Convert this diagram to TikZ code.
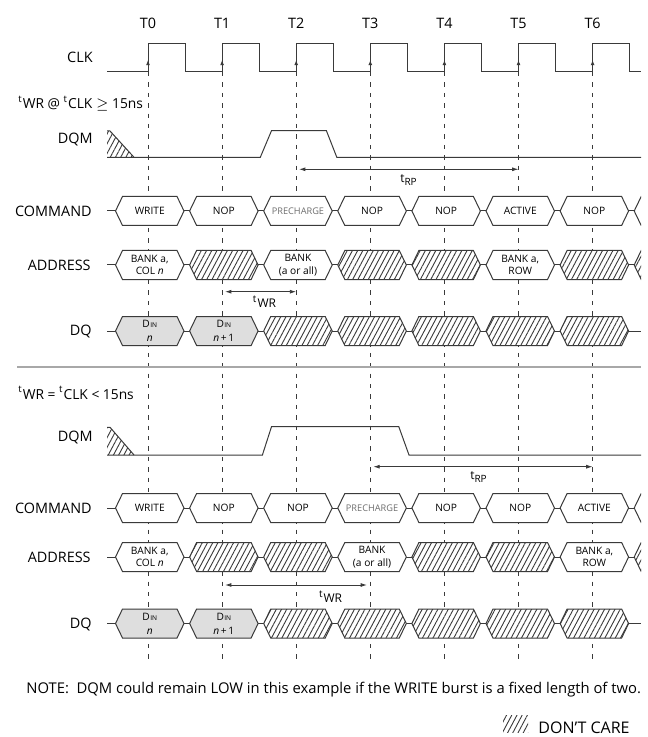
\documentclass[tikz,border=0pt]{standalone}
\usepackage{fontspec}
\setmainfont{Open Sans}
\usepackage{tikz}
\usetikzlibrary{arrows.meta,patterns.meta}
\definecolor{wiregray}{HTML}{3A3A3A}
\definecolor{dinfill}{HTML}{DEDEDE}
\definecolor{sepgray}{HTML}{A8A8A8}
\definecolor{faintgray}{HTML}{6E6E6E}
\tikzset{
  wire/.style={draw=wiregray, line width=0.5pt},
  gridline/.style={draw=wiregray, dash pattern=on 2.2pt off 3pt, line width=0.45pt},
  span/.style={draw=wiregray, {Latex[length=3.2pt,width=2pt]}-{Latex[length=3.2pt,width=2pt]}, line width=0.45pt},
  riseedge/.style={draw=wiregray, -{Latex[length=2.6pt,width=2pt]}, line width=0.45pt},
  divider/.style={draw=sepgray, line width=1pt},
  bus/.style={wire, fill=white},
  din/.style={wire, fill=dinfill},
  dontcare/.style={wire, preaction={fill=white},
    pattern={Lines[angle=62,distance=2.3pt,line width=0.45pt]}, pattern color=wiregray},
  sig/.style={font=\fontsize{7.2}{8.6}\selectfont, inner sep=0pt},
  cell/.style={font=\fontsize{5.1}{6.2}\selectfont, align=center, inner sep=0pt},
  timing/.style={font=\fontsize{6}{7}\selectfont, inner sep=0pt},
  headtext/.style={font=\fontsize{6.9}{8}\selectfont, inner sep=0pt},
  notetext/.style={font=\fontsize{7.4}{9}\selectfont, inner sep=0pt}
}
% one bus cell per clock: clock index, row y
\newcommand{\busshape}[3]{%
  \pgfmathsetmacro{\cellL}{148+74.1*#2-32.5}%
  \pgfmathsetmacro{\cellR}{148+74.1*#2+36}%
  \draw[#1] (\cellL,#3) -- ({\cellL+7},{#3-14.5}) -- ({\cellR-7},{#3-14.5}) -- (\cellR,#3)
    -- ({\cellR-7},{#3+14.5}) -- ({\cellL+7},{#3+14.5}) -- cycle;}
\newcommand{\buscell}[5][bus]{%
  \busshape{#1}{#2}{#3}%
  \node[cell] (#4) at ({148+74.1*#2+1.75},#3) {#5};}
\newcommand{\dccell}[2]{\busshape{dontcare}{#1}{#2}}
\newcommand{\dIN}{D\kern0.2pt{\fontsize{3.3}{4}\selectfont IN}}
\newcommand{\pre}{{\color{faintgray}\fontsize{4.6}{5}\selectfont PRECHARGE}}

\begin{document}
\begin{tikzpicture}[x=0.5pt,y=-0.5pt]
  \path[use as bounding box] (0,0) rectangle (647,737);
  \clip (0,0) rectangle (641,737);

  % clock grid
  \foreach \k in {0,...,6}
    \draw[gridline] ({148+74.1*\k},72) -- ({148+74.1*\k},663);
  \foreach \k in {0,...,6}
    \node[sig] (t\k) at ({148+74.1*\k},23) {T\k};

  \node[sig, anchor=east] (clk) at (93,57) {CLK};
  \draw[wire] (107,72) \foreach \k in {0,...,6} {
    -- ({148+74.1*\k},72) -- ({148+74.1*\k},43.3) -- ({185+74.1*\k},43.3) -- ({185+74.1*\k},72) }
    -- (641,72);
  \foreach \k in {0,...,6}
    \draw[riseedge] ({148+74.1*\k},71) -- ({148+74.1*\k},60);

  % ---- tWR @ tCLK >= 15ns
  \node[headtext, anchor=base west] (headA) at (18,108.3)
    {\textsuperscript{t}WR @ \textsuperscript{t}CLK $\geq$ 15ns};

  \node[sig, anchor=east] (dqmA) at (93,140) {DQM};
  \path[dontcare, draw=none] (107,131) -- (110,131) -- (134,157.3) -- (107,157.3) -- cycle;
  \draw[wire] (107,131) -- (110,131) -- (134,157.3);
  \draw[wire] (107,157.3) -- (260.3,157.3) -- (271.5,130.7) -- (326.4,130.7)
    -- (336.8,157.3) -- (641,157.3);

  \coordinate (rpA0) at (299,169.3);
  \coordinate (rpA1) at (518.5,169.3);
  \draw[span] (rpA0) -- (rpA1);
  \node[timing] (trpA) at (409,180) {t\textsubscript{RP}};

  \node[sig, anchor=east] (cmdA) at (92,211) {COMMAND};
  \draw[wire] (107,211) -- (641,211);
  \buscell{0}{211}{cmdA0}{WRITE}
  \buscell{1}{211}{cmdA1}{NOP}
  \buscell{2}{211}{cmdA2}{\pre}
  \buscell{3}{211}{cmdA3}{NOP}
  \buscell{4}{211}{cmdA4}{NOP}
  \buscell{5}{211}{cmdA5}{ACTIVE}
  \buscell{6}{211}{cmdA6}{NOP}
  \busshape{bus}{7}{211}

  \node[sig, anchor=east] (adrA) at (91,265) {ADDRESS};
  \draw[wire] (107,265) -- (641,265);
  \buscell{0}{265}{adrA0}{BANK a,\\COL \textit{n}}
  \dccell{1}{265}
  \buscell{2}{265}{adrA2}{BANK\\(a or all)}
  \dccell{3}{265}
  \dccell{4}{265}
  \buscell{5}{265}{adrA5}{BANK a,\\ROW}
  \dccell{6}{265}
  \dccell{7}{265}

  \coordinate (wrA0) at (225,291.7);
  \coordinate (wrA1) at (296.2,291.7);
  \draw[span] (wrA0) -- (wrA1);
  \node[timing] (twrA) at (264.5,301.7) {\textsuperscript{t}WR};

  \node[sig, anchor=east] (dqA) at (92,332) {DQ};
  \draw[wire] (107,331) -- (641,331);
  \buscell[din]{0}{331}{dqA0}{\dIN\\[0.8pt]\textit{n}}
  \buscell[din]{1}{331}{dqA1}{\dIN\\[0.8pt]\textit{n}\,+\,1}
  \foreach \k in {2,...,6}
    \dccell{\k}{331};

  \draw[divider] (17,367) -- (641,367);

  % ---- tWR = tCLK < 15ns
  \node[headtext, anchor=base west] (headB) at (18,399)
    {\textsuperscript{t}WR = \textsuperscript{t}CLK < 15ns};

  \node[sig, anchor=east] (dqmB) at (93,437) {DQM};
  \path[dontcare, draw=none] (107,427.3) -- (110,427.3) -- (134,455) -- (107,455) -- cycle;
  \draw[wire] (107,427.3) -- (110,427.3) -- (134,455);
  \draw[wire] (107,455) -- (262.4,455) -- (271.5,426.7) -- (398.8,426.7)
    -- (409,455) -- (641,455);

  \coordinate (rpB0) at (373.3,466.7);
  \coordinate (rpB1) at (592.6,466.7);
  \draw[span] (rpB0) -- (rpB1);
  \node[timing] (trpB) at (479,476.7) {t\textsubscript{RP}};

  \node[sig, anchor=east] (cmdB) at (92,508) {COMMAND};
  \draw[wire] (107,508) -- (641,508);
  \buscell{0}{508}{cmdB0}{WRITE}
  \buscell{1}{508}{cmdB1}{NOP}
  \buscell{2}{508}{cmdB2}{NOP}
  \buscell{3}{508}{cmdB3}{\pre}
  \buscell{4}{508}{cmdB4}{NOP}
  \buscell{5}{508}{cmdB5}{NOP}
  \buscell{6}{508}{cmdB6}{ACTIVE}
  \busshape{bus}{7}{508}

  \node[sig, anchor=east] (adrB) at (91,557) {ADDRESS};
  \draw[wire] (107,557) -- (641,557);
  \buscell{0}{557}{adrB0}{BANK a,\\COL \textit{n}}
  \dccell{1}{557}
  \dccell{2}{557}
  \buscell{3}{557}{adrB3}{BANK\\(a or all)}
  \dccell{4}{557}
  \dccell{5}{557}
  \buscell{6}{557}{adrB6}{BANK a,\\ROW}
  \dccell{7}{557}

  \coordinate (wrB0) at (225,585);
  \coordinate (wrB1) at (367,585);
  \draw[span] (wrB0) -- (wrB1);
  \node[timing] (twrB) at (330.6,596.7) {\textsuperscript{t}WR};

  \node[sig, anchor=east] (dqB) at (92,624.5) {DQ};
  \draw[wire] (107,623.5) -- (641,623.5);
  \buscell[din]{0}{623.5}{dqB0}{\dIN\\[0.8pt]\textit{n}}
  \buscell[din]{1}{623.5}{dqB1}{\dIN\\[0.8pt]\textit{n}\,+\,1}
  \foreach \k in {2,...,6}
    \dccell{\k}{623.5};

  \node[notetext, anchor=base west] (note) at (26,693)
    {NOTE:\ \ DQM could remain LOW in this example if the WRITE burst is a fixed length of two.};

  \path[dontcare, draw=none] (503,715) rectangle (528,732);
  \node[notetext, font=\fontsize{8}{9}\selectfont, anchor=base west] (dclegend) at (538,733) {DON'T CARE};
\end{tikzpicture}
\end{document}
